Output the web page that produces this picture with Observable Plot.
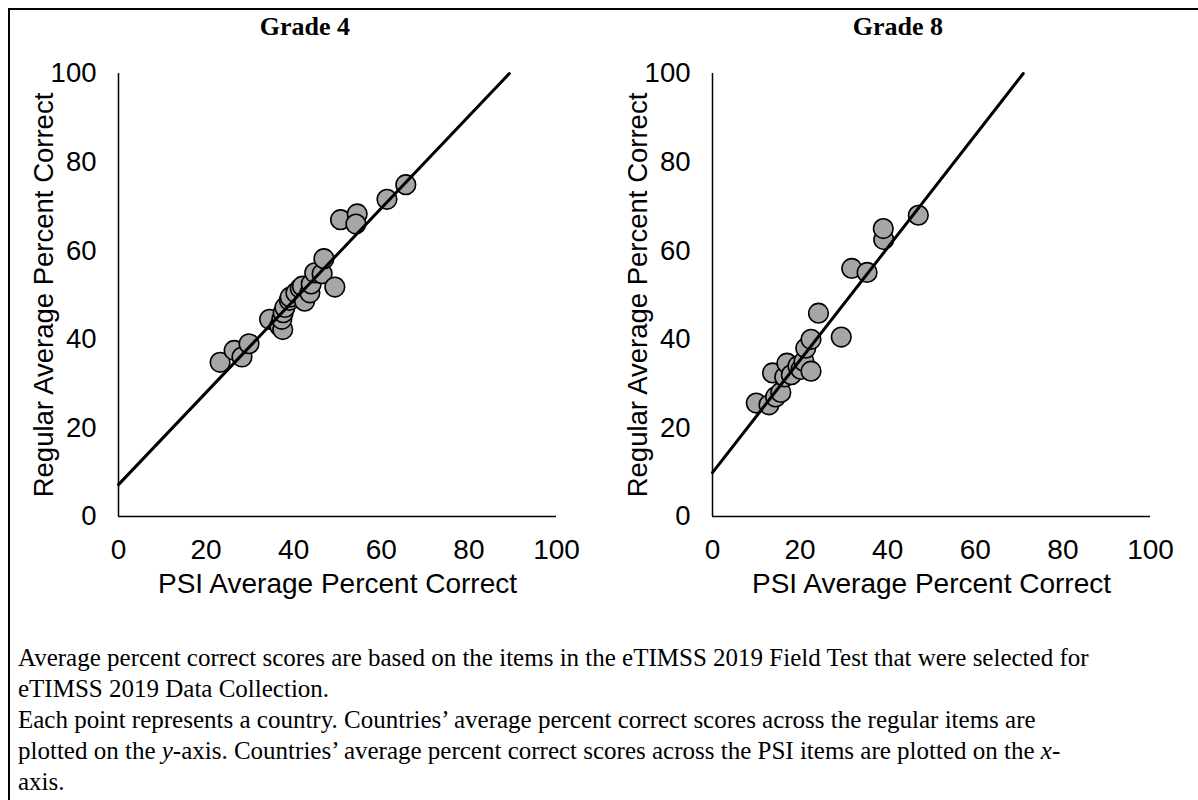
<!DOCTYPE html>
<html>
<head>
<meta charset="utf-8">
<script src="https://cdn.jsdelivr.net/npm/d3@7"></script>
<script src="https://cdn.jsdelivr.net/npm/@observablehq/plot@0.6"></script>
<style>
  html, body { margin: 0; padding: 0; background: #fff; }
  #page { position: relative; width: 1198px; height: 800px; overflow: hidden; }
  #frame { position: absolute; left: 8px; top: 8px; width: 1210px; height: 820px; border: 2px solid #000; box-sizing: border-box; }
  .title { position: absolute; top: 12px; font-family: "Liberation Serif", "Times New Roman", serif; font-weight: bold; font-size: 26px; text-align: center; width: 300px; }
  .panel { position: absolute; top: 0; }
  #note { position: absolute; left: 18px; top: 642px; font-family: "Liberation Serif", "Times New Roman", serif; font-size: 25px; line-height: 31px; color: #000; white-space: nowrap; }
</style>
</head>
<body>
<div id="page">
  <div id="frame"></div>
  <div class="title" style="left:155px">Grade 4</div>
  <div class="title" style="left:748px">Grade 8</div>
  <div class="panel" id="p4" style="left:0px"></div>
  <div class="panel" id="p8" style="left:594px"></div>
  <div id="note">
    Average percent correct scores are based on the items in the eTIMSS 2019 Field Test that were selected for<br>
    eTIMSS 2019 Data Collection.<br>
    Each point represents a country. Countries’ average percent correct scores across the regular items are<br>
    plotted on the <i>y</i>-axis. Countries’ average percent correct scores across the PSI items are plotted on the <i>x</i>-<br>
    axis.
  </div>
</div>
<script>
// ---- Data ----
const ticks = [0, 20, 40, 60, 80, 100];
const xLabel = "PSI Average Percent Correct";
const yLabel = "Regular Average Percent Correct";

// Grade 4: PSI (x) vs Regular (y) average percent correct per country
const g4PSI     = [23.2, 26.4, 28.2, 29.8, 34.5, 36.8, 37.5, 37.3, 37.6, 38.0, 39.0, 39.2, 40.5, 41.5, 42.0, 42.5, 43.7, 44.0, 44.8, 46.5, 46.9, 49.4, 50.7, 54.5, 54.2, 61.3, 65.6];
const g4Regular = [34.8, 37.5, 36.0, 39.0, 44.5, 43.0, 42.2, 44.5, 46.0, 47.2, 48.8, 49.5, 50.5, 51.5, 52.0, 48.6, 50.5, 52.5, 55.0, 54.8, 58.2, 51.8, 67.0, 68.3, 66.0, 71.6, 74.9];
const g4Fit = { intercept: 7.2, slope: 1.04 };

// Grade 8
const g8PSI     = [10.0, 12.9, 13.7, 14.4, 15.6, 16.5, 17.0, 18.0, 19.5, 20.2, 20.9, 21.3, 22.5, 22.5, 24.2, 29.4, 31.8, 35.3, 39.1, 39.0, 47.0];
const g8Regular = [25.6, 25.2, 32.4, 27.0, 28.0, 31.5, 34.6, 32.0, 34.0, 33.2, 35.0, 38.0, 40.0, 32.8, 45.9, 40.5, 56.0, 55.1, 62.5, 65.0, 68.0];
const g8Fit = { intercept: 9.9, slope: 1.27 };

function fitLine(fit) {
  // line from x = 0 to where it reaches y = 100
  const xEnd = (100 - fit.intercept) / fit.slope;
  return [0, xEnd].map(x => ({ x, y: fit.intercept + fit.slope * x }));
}

function panel(xs, ys, fit) {
  const pts = xs.map((x, i) => ({ x, y: ys[i] }));
  return Plot.plot({
    width: 600,
    height: 620,
    marginLeft: 118,
    marginRight: 44,
    marginTop: 73,
    marginBottom: 104,
    style: { fontFamily: "'Liberation Sans', Arial, sans-serif", fontSize: "28px", color: "#000", background: "transparent", overflow: "visible" },
    x: { domain: [0, 100] },
    y: { domain: [0, 100] },
    marks: [
      Plot.axisX({ ticks, tickSize: 0, tickPadding: 23, label: xLabel, labelArrow: "none", labelAnchor: "center", labelOffset: 76, fontSize: 28 }),
      Plot.axisY({ ticks, tickSize: 0, tickPadding: 22, label: yLabel, labelArrow: "none", labelAnchor: "center", labelOffset: 85, fontSize: 27.5 }),
      Plot.ruleX([0], { stroke: "#000", strokeWidth: 1.5 }),
      Plot.ruleY([0], { stroke: "#000", strokeWidth: 1.5 }),
      Plot.dot(pts, { x: "x", y: "y", r: 9.8, fill: "#a6a6a6", stroke: "#000", strokeWidth: 1.6 }),
      Plot.line(fitLine(fit), { x: "x", y: "y", stroke: "#000", strokeWidth: 3 })
    ]
  });
}

document.getElementById("p4").appendChild(panel(g4PSI, g4Regular, g4Fit));
document.getElementById("p8").appendChild(panel(g8PSI, g8Regular, g8Fit));
</script>
</body>
</html>
